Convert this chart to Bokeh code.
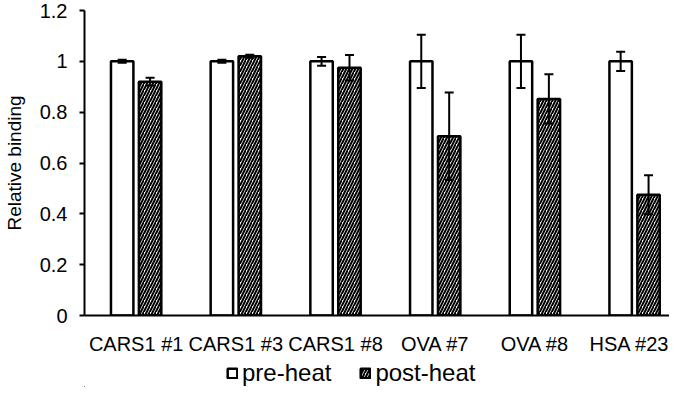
from bokeh.plotting import figure
from bokeh.layouts import column
from bokeh.models import (ColumnDataSource, Range1d, FixedTicker, Whisker, TeeHead,
                          Legend, LegendItem)
from bokeh.embed import file_html
from bokeh.resources import INLINE

categories = ["CARS1 #1", "CARS1 #3", "CARS1 #8", "OVA #7", "OVA #8", "HSA #23"]
pre_heat = [1.0, 1.0, 1.0, 1.0, 1.0, 1.0]
pre_err = [0.006, 0.006, 0.017, 0.105, 0.105, 0.038]
post_heat = [0.92, 1.02, 0.975, 0.705, 0.852, 0.475]
post_err = [0.015, 0.006, 0.05, 0.172, 0.097, 0.077]
series_names = ["pre-heat", "post-heat"]
y_ticks = [0, 0.2, 0.4, 0.6, 0.8, 1.0, 1.2]
y_tick_labels = ["0", "0.2", "0.4", "0.6", "0.8", "1", "1.2"]

FONT = "Liberation Sans"
idx = list(range(len(categories)))
off = 0.14
bw = 0.225

PRE_STYLE = dict(fill_color="white", line_color="black", line_width=2.5)
POST_STYLE = dict(fill_color="white", line_color="black", line_width=2.5,
                  hatch_pattern="/", hatch_color="black", hatch_scale=6,
                  hatch_weight=2.0)

src_pre = ColumnDataSource(dict(
    x=[i - off for i in idx], top=pre_heat,
    upper=[v + e for v, e in zip(pre_heat, pre_err)],
    lower=[v - e for v, e in zip(pre_heat, pre_err)]))
src_post = ColumnDataSource(dict(
    x=[i + off for i in idx], top=post_heat,
    upper=[v + e for v, e in zip(post_heat, post_err)],
    lower=[v - e for v, e in zip(post_heat, post_err)]))

p = figure(width=669, height=357, output_backend="svg", toolbar_location=None,
           x_range=Range1d(-0.518, 5.35), y_range=Range1d(0, 1.2),
           min_border_left=80, min_border_right=0, min_border_top=10,
           min_border_bottom=35)
p.outline_line_color = None
p.xgrid.visible = False
p.ygrid.visible = False

p.vbar(x="x", top="top", width=bw, source=src_pre, **PRE_STYLE)
p.vbar(x="x", top="top", width=bw, source=src_post, **POST_STYLE)

for s in (src_pre, src_post):
    w = Whisker(source=s, base="x", upper="upper", lower="lower",
                line_color="black", line_width=2, level="annotation",
                upper_head=TeeHead(size=9, line_width=2, line_color="black"),
                lower_head=TeeHead(size=9, line_width=2, line_color="black"))
    p.add_layout(w)

# axes
p.xaxis.ticker = FixedTicker(ticks=idx)
p.xaxis.major_label_overrides = {i: c for i, c in zip(idx, categories)}
p.xaxis.major_tick_line_color = None
p.xaxis.minor_tick_line_color = None
p.xaxis.axis_line_width = 2
p.xaxis.axis_line_color = "black"
p.xaxis.major_label_text_font = FONT
p.xaxis.major_label_text_font_size = "20px"
p.xaxis.major_label_text_color = "black"
p.xaxis.major_label_standoff = 11

p.yaxis.ticker = FixedTicker(ticks=y_ticks)
p.yaxis.major_label_overrides = {t: l for t, l in zip(y_ticks, y_tick_labels)}
p.yaxis.minor_tick_line_color = None
p.yaxis.major_tick_in = 0
p.yaxis.major_tick_out = 5
p.yaxis.major_tick_line_width = 2
p.yaxis.major_tick_line_color = "black"
p.yaxis.axis_line_width = 2
p.yaxis.axis_line_color = "black"
p.yaxis.major_label_text_font = FONT
p.yaxis.major_label_text_font_size = "20px"
p.yaxis.major_label_text_color = "black"
p.yaxis.major_label_standoff = 12
p.yaxis.axis_label = "Relative binding"
p.yaxis.axis_label_text_font = FONT
p.yaxis.axis_label_text_font_size = "19px"
p.yaxis.axis_label_text_font_style = "normal"
p.yaxis.axis_label_text_color = "black"
p.yaxis.axis_label_standoff = 12

# legend strip (its frame is aligned with the main frame by the column layout)
lg = figure(width=669, height=30, output_backend="svg", toolbar_location=None,
            x_range=Range1d(0, 1), y_range=Range1d(0, 1),
            x_axis_type=None, y_axis_type=None,
            min_border_left=0, min_border_right=0, min_border_top=0,
            min_border_bottom=0)
lg.grid.visible = False
lg.outline_line_color = None
l_pre = lg.vbar(x=[-1e4], top=[-1e4], bottom=[-2e4], width=0.1, **PRE_STYLE)
l_post = lg.vbar(x=[-1e4], top=[-1e4], bottom=[-2e4], width=0.1, **POST_STYLE)
legend = Legend(items=[LegendItem(label=series_names[0], renderers=[l_pre]),
                       LegendItem(label=series_names[1], renderers=[l_post])],
                orientation="horizontal", location=(142, 0),
                border_line_color=None, background_fill_alpha=0,
                label_text_font=FONT, label_text_font_size="24px",
                label_text_color="black", glyph_width=12, glyph_height=12,
                label_standoff=4, spacing=28, padding=2, margin=0,
                label_height=24)
lg.add_layout(legend, "center")

layout = column(p, lg, spacing=0)
open("out.html", "w").write(file_html(layout, INLINE))
